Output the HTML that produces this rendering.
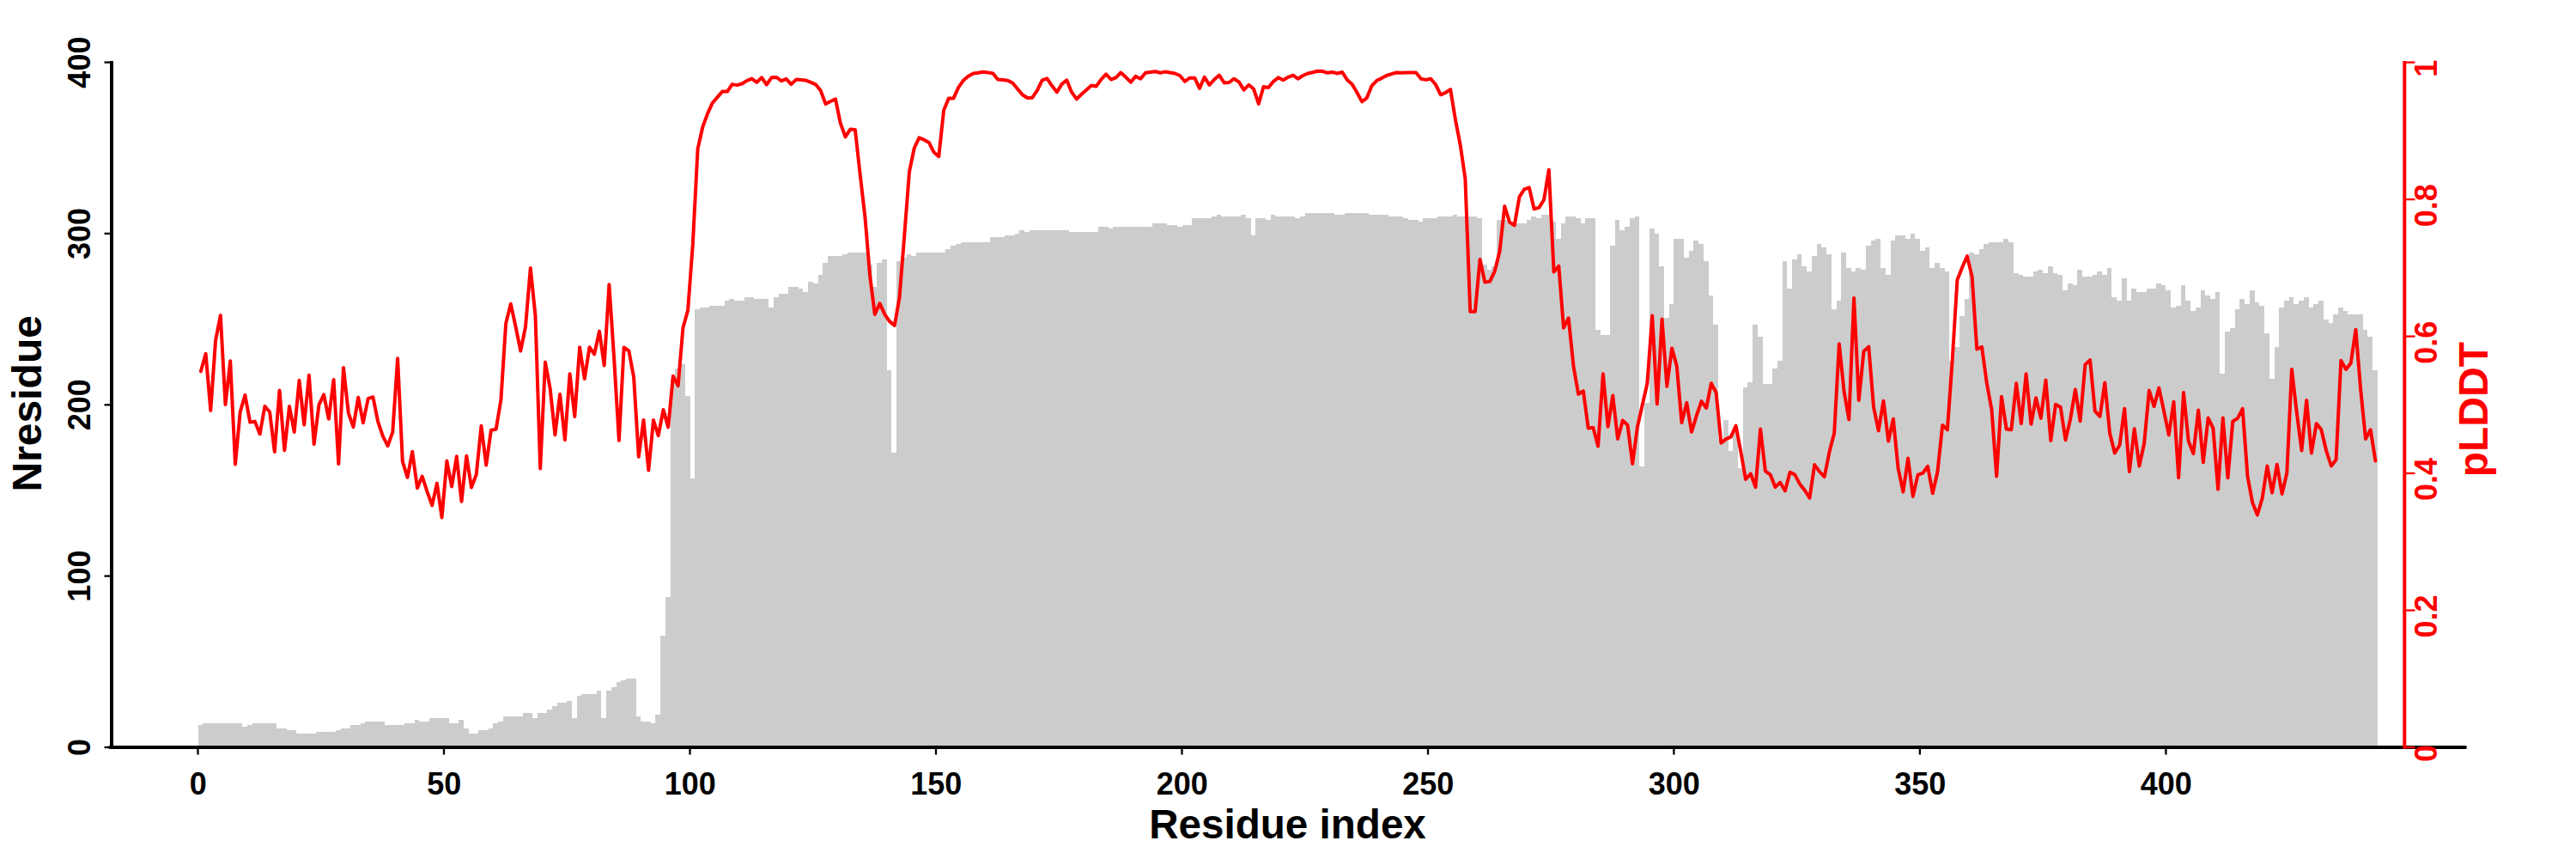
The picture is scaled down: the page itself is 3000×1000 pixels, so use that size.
<!DOCTYPE html>
<html lang="en"><head><meta charset="utf-8"><title>Residue coverage and pLDDT</title>
<style>html,body{margin:0;padding:0;background:#fff;}body{width:3000px;height:1000px;overflow:hidden;}svg{display:block;}</style>
</head><body>
<svg width="3000" height="1000" viewBox="0 0 3000 1000">
<rect width="3000" height="1000" fill="#fff"/>
<path d="M230.5 870.0 L230.5 844.1 L236.2 844.1 L236.2 842.1 L242.0 842.1 L242.0 842.1 L247.7 842.1 L247.7 842.1 L253.4 842.1 L253.4 842.1 L259.1 842.1 L259.1 842.1 L264.9 842.1 L264.9 842.1 L270.6 842.1 L270.6 842.1 L276.3 842.1 L276.3 842.1 L282.1 842.1 L282.1 846.1 L287.8 846.1 L287.8 844.1 L293.5 844.1 L293.5 842.1 L299.3 842.1 L299.3 842.1 L305.0 842.1 L305.0 842.1 L310.7 842.1 L310.7 842.1 L316.4 842.1 L316.4 842.1 L322.2 842.1 L322.2 848.1 L327.9 848.1 L327.9 848.1 L333.6 848.1 L333.6 850.1 L339.4 850.1 L339.4 850.1 L345.1 850.1 L345.1 854.1 L350.8 854.1 L350.8 854.1 L356.6 854.1 L356.6 854.1 L362.3 854.1 L362.3 854.1 L368.0 854.1 L368.0 852.1 L373.7 852.1 L373.7 852.1 L379.5 852.1 L379.5 852.1 L385.2 852.1 L385.2 852.1 L390.9 852.1 L390.9 850.1 L396.7 850.1 L396.7 848.1 L402.4 848.1 L402.4 848.1 L408.1 848.1 L408.1 844.1 L413.9 844.1 L413.9 844.1 L419.6 844.1 L419.6 842.1 L425.3 842.1 L425.3 840.1 L431.0 840.1 L431.0 840.1 L436.8 840.1 L436.8 840.1 L442.5 840.1 L442.5 840.1 L448.2 840.1 L448.2 844.1 L454.0 844.1 L454.0 844.1 L459.7 844.1 L459.7 844.1 L465.4 844.1 L465.4 844.1 L471.2 844.1 L471.2 842.1 L476.9 842.1 L476.9 842.1 L482.6 842.1 L482.6 838.1 L488.3 838.1 L488.3 840.1 L494.1 840.1 L494.1 840.1 L499.8 840.1 L499.8 836.1 L505.5 836.1 L505.5 836.1 L511.3 836.1 L511.3 836.1 L517.0 836.1 L517.0 836.1 L522.7 836.1 L522.7 842.1 L528.4 842.1 L528.4 842.1 L534.2 842.1 L534.2 838.1 L539.9 838.1 L539.9 848.1 L545.6 848.1 L545.6 854.1 L551.4 854.1 L551.4 854.1 L557.1 854.1 L557.1 850.1 L562.8 850.1 L562.8 850.1 L568.6 850.1 L568.6 848.1 L574.3 848.1 L574.3 842.1 L580.0 842.1 L580.0 840.1 L585.7 840.1 L585.7 834.1 L591.5 834.1 L591.5 834.1 L597.2 834.1 L597.2 834.1 L602.9 834.1 L602.9 834.1 L608.7 834.1 L608.7 830.1 L614.4 830.1 L614.4 830.1 L620.1 830.1 L620.1 836.1 L625.9 836.1 L625.9 830.1 L631.6 830.1 L631.6 830.1 L637.3 830.1 L637.3 826.1 L643.0 826.1 L643.0 822.2 L648.8 822.2 L648.8 818.2 L654.5 818.2 L654.5 818.2 L660.2 818.2 L660.2 816.2 L666.0 816.2 L666.0 836.1 L671.7 836.1 L671.7 810.2 L677.4 810.2 L677.4 808.2 L683.2 808.2 L683.2 808.2 L688.9 808.2 L688.9 808.2 L694.6 808.2 L694.6 804.2 L700.3 804.2 L700.3 836.1 L706.1 836.1 L706.1 804.2 L711.8 804.2 L711.8 800.2 L717.5 800.2 L717.5 794.2 L723.3 794.2 L723.3 792.3 L729.0 792.3 L729.0 790.3 L734.7 790.3 L734.7 790.3 L740.5 790.3 L740.5 834.1 L746.2 834.1 L746.2 840.1 L751.9 840.1 L751.9 840.1 L757.6 840.1 L757.6 842.1 L763.4 842.1 L763.4 832.1 L769.1 832.1 L769.1 740.4 L774.8 740.4 L774.8 694.6 L780.6 694.6 L780.6 441.4 L786.3 441.4 L786.3 429.4 L792.0 429.4 L792.0 423.5 L797.8 423.5 L797.8 461.3 L803.5 461.3 L803.5 557.0 L809.2 557.0 L809.2 359.7 L814.9 359.7 L814.9 357.7 L820.7 357.7 L820.7 357.7 L826.4 357.7 L826.4 355.7 L832.1 355.7 L832.1 355.7 L837.9 355.7 L837.9 355.7 L843.6 355.7 L843.6 349.7 L849.3 349.7 L849.3 347.7 L855.0 347.7 L855.0 349.7 L860.8 349.7 L860.8 349.7 L866.5 349.7 L866.5 345.7 L872.2 345.7 L872.2 345.7 L878.0 345.7 L878.0 347.7 L883.7 347.7 L883.7 347.7 L889.4 347.7 L889.4 347.7 L895.2 347.7 L895.2 357.7 L900.9 357.7 L900.9 345.7 L906.6 345.7 L906.6 341.7 L912.3 341.7 L912.3 341.7 L918.1 341.7 L918.1 333.7 L923.8 333.7 L923.8 333.7 L929.5 333.7 L929.5 335.7 L935.3 335.7 L935.3 339.7 L941.0 339.7 L941.0 327.8 L946.7 327.8 L946.7 329.8 L952.5 329.8 L952.5 319.8 L958.2 319.8 L958.2 305.8 L963.9 305.8 L963.9 297.9 L969.6 297.9 L969.6 297.9 L975.4 297.9 L975.4 297.9 L981.1 297.9 L981.1 295.9 L986.8 295.9 L986.8 293.9 L992.6 293.9 L992.6 293.9 L998.3 293.9 L998.3 293.9 L1004.0 293.9 L1004.0 293.9 L1009.8 293.9 L1009.8 307.8 L1015.5 307.8 L1015.5 333.7 L1021.2 333.7 L1021.2 305.8 L1026.9 305.8 L1026.9 301.9 L1032.7 301.9 L1032.7 431.4 L1038.4 431.4 L1038.4 527.1 L1044.1 527.1 L1044.1 303.8 L1049.9 303.8 L1049.9 299.9 L1055.6 299.9 L1055.6 295.9 L1061.3 295.9 L1061.3 297.9 L1067.1 297.9 L1067.1 293.9 L1072.8 293.9 L1072.8 293.9 L1078.5 293.9 L1078.5 293.9 L1084.2 293.9 L1084.2 293.9 L1090.0 293.9 L1090.0 293.9 L1095.7 293.9 L1095.7 293.9 L1101.4 293.9 L1101.4 289.9 L1107.2 289.9 L1107.2 285.9 L1112.9 285.9 L1112.9 283.9 L1118.6 283.9 L1118.6 281.9 L1124.3 281.9 L1124.3 281.9 L1130.1 281.9 L1130.1 281.9 L1135.8 281.9 L1135.8 281.9 L1141.5 281.9 L1141.5 281.9 L1147.3 281.9 L1147.3 281.9 L1153.0 281.9 L1153.0 275.9 L1158.7 275.9 L1158.7 275.9 L1164.5 275.9 L1164.5 275.9 L1170.2 275.9 L1170.2 273.9 L1175.9 273.9 L1175.9 273.9 L1181.6 273.9 L1181.6 271.9 L1187.4 271.9 L1187.4 268.0 L1193.1 268.0 L1193.1 270.0 L1198.8 270.0 L1198.8 268.0 L1204.6 268.0 L1204.6 268.0 L1210.3 268.0 L1210.3 268.0 L1216.0 268.0 L1216.0 268.0 L1221.8 268.0 L1221.8 268.0 L1227.5 268.0 L1227.5 268.0 L1233.2 268.0 L1233.2 268.0 L1238.9 268.0 L1238.9 268.0 L1244.7 268.0 L1244.7 270.0 L1250.4 270.0 L1250.4 270.0 L1256.1 270.0 L1256.1 270.0 L1261.9 270.0 L1261.9 270.0 L1267.6 270.0 L1267.6 270.0 L1273.3 270.0 L1273.3 270.0 L1279.1 270.0 L1279.1 264.0 L1284.8 264.0 L1284.8 264.0 L1290.5 264.0 L1290.5 266.0 L1296.2 266.0 L1296.2 264.0 L1302.0 264.0 L1302.0 264.0 L1307.7 264.0 L1307.7 264.0 L1313.4 264.0 L1313.4 264.0 L1319.2 264.0 L1319.2 264.0 L1324.9 264.0 L1324.9 264.0 L1330.6 264.0 L1330.6 264.0 L1336.4 264.0 L1336.4 264.0 L1342.1 264.0 L1342.1 260.0 L1347.8 260.0 L1347.8 260.0 L1353.5 260.0 L1353.5 260.0 L1359.3 260.0 L1359.3 262.0 L1365.0 262.0 L1365.0 262.0 L1370.7 262.0 L1370.7 264.0 L1376.5 264.0 L1376.5 262.0 L1382.2 262.0 L1382.2 262.0 L1387.9 262.0 L1387.9 254.0 L1393.6 254.0 L1393.6 254.0 L1399.4 254.0 L1399.4 254.0 L1405.1 254.0 L1405.1 254.0 L1410.8 254.0 L1410.8 252.0 L1416.6 252.0 L1416.6 250.0 L1422.3 250.0 L1422.3 252.0 L1428.0 252.0 L1428.0 252.0 L1433.8 252.0 L1433.8 252.0 L1439.5 252.0 L1439.5 252.0 L1445.2 252.0 L1445.2 250.0 L1450.9 250.0 L1450.9 254.0 L1456.7 254.0 L1456.7 273.9 L1462.4 273.9 L1462.4 254.0 L1468.1 254.0 L1468.1 254.0 L1473.9 254.0 L1473.9 256.0 L1479.6 256.0 L1479.6 250.0 L1485.3 250.0 L1485.3 252.0 L1491.1 252.0 L1491.1 252.0 L1496.8 252.0 L1496.8 252.0 L1502.5 252.0 L1502.5 252.0 L1508.2 252.0 L1508.2 254.0 L1514.0 254.0 L1514.0 252.0 L1519.7 252.0 L1519.7 248.0 L1525.4 248.0 L1525.4 248.0 L1531.2 248.0 L1531.2 248.0 L1536.9 248.0 L1536.9 248.0 L1542.6 248.0 L1542.6 248.0 L1548.4 248.0 L1548.4 248.0 L1554.1 248.0 L1554.1 250.0 L1559.8 250.0 L1559.8 250.0 L1565.5 250.0 L1565.5 248.0 L1571.3 248.0 L1571.3 248.0 L1577.0 248.0 L1577.0 248.0 L1582.7 248.0 L1582.7 248.0 L1588.5 248.0 L1588.5 248.0 L1594.2 248.0 L1594.2 250.0 L1599.9 250.0 L1599.9 250.0 L1605.7 250.0 L1605.7 250.0 L1611.4 250.0 L1611.4 250.0 L1617.1 250.0 L1617.1 252.0 L1622.8 252.0 L1622.8 252.0 L1628.6 252.0 L1628.6 252.0 L1634.3 252.0 L1634.3 254.0 L1640.0 254.0 L1640.0 256.0 L1645.8 256.0 L1645.8 256.0 L1651.5 256.0 L1651.5 258.0 L1657.2 258.0 L1657.2 254.0 L1663.0 254.0 L1663.0 254.0 L1668.7 254.0 L1668.7 254.0 L1674.4 254.0 L1674.4 252.0 L1680.1 252.0 L1680.1 252.0 L1685.9 252.0 L1685.9 252.0 L1691.6 252.0 L1691.6 250.0 L1697.3 250.0 L1697.3 252.0 L1703.1 252.0 L1703.1 252.0 L1708.8 252.0 L1708.8 252.0 L1714.5 252.0 L1714.5 252.0 L1720.2 252.0 L1720.2 254.0 L1726.0 254.0 L1726.0 307.8 L1731.7 307.8 L1731.7 313.8 L1737.4 313.8 L1737.4 309.8 L1743.2 309.8 L1743.2 256.0 L1748.9 256.0 L1748.9 256.0 L1754.6 256.0 L1754.6 258.0 L1760.4 258.0 L1760.4 260.0 L1766.1 260.0 L1766.1 260.0 L1771.8 260.0 L1771.8 260.0 L1777.5 260.0 L1777.5 256.0 L1783.3 256.0 L1783.3 252.0 L1789.0 252.0 L1789.0 254.0 L1794.7 254.0 L1794.7 250.0 L1800.5 250.0 L1800.5 250.0 L1806.2 250.0 L1806.2 258.0 L1811.9 258.0 L1811.9 277.9 L1817.7 277.9 L1817.7 260.0 L1823.4 260.0 L1823.4 252.0 L1829.1 252.0 L1829.1 252.0 L1834.8 252.0 L1834.8 254.0 L1840.6 254.0 L1840.6 260.0 L1846.3 260.0 L1846.3 254.0 L1852.0 254.0 L1852.0 254.0 L1857.8 254.0 L1857.8 383.6 L1863.5 383.6 L1863.5 389.6 L1869.2 389.6 L1869.2 389.6 L1875.0 389.6 L1875.0 285.9 L1880.7 285.9 L1880.7 256.0 L1886.4 256.0 L1886.4 268.0 L1892.1 268.0 L1892.1 264.0 L1897.9 264.0 L1897.9 254.0 L1903.6 254.0 L1903.6 252.0 L1909.3 252.0 L1909.3 543.1 L1915.1 543.1 L1915.1 469.3 L1920.8 469.3 L1920.8 266.0 L1926.5 266.0 L1926.5 271.9 L1932.3 271.9 L1932.3 309.8 L1938.0 309.8 L1938.0 369.6 L1943.7 369.6 L1943.7 353.7 L1949.4 353.7 L1949.4 277.9 L1955.2 277.9 L1955.2 277.9 L1960.9 277.9 L1960.9 299.9 L1966.6 299.9 L1966.6 291.9 L1972.4 291.9 L1972.4 279.9 L1978.1 279.9 L1978.1 283.9 L1983.8 283.9 L1983.8 303.8 L1989.5 303.8 L1989.5 343.7 L1995.3 343.7 L1995.3 377.6 L2001.0 377.6 L2001.0 511.2 L2006.7 511.2 L2006.7 489.2 L2012.5 489.2 L2012.5 525.1 L2018.2 525.1 L2018.2 499.2 L2023.9 499.2 L2023.9 545.1 L2029.7 545.1 L2029.7 451.4 L2035.4 451.4 L2035.4 445.4 L2041.1 445.4 L2041.1 377.6 L2046.8 377.6 L2046.8 391.6 L2052.6 391.6 L2052.6 447.4 L2058.3 447.4 L2058.3 447.4 L2064.0 447.4 L2064.0 429.4 L2069.8 429.4 L2069.8 419.5 L2075.5 419.5 L2075.5 303.8 L2081.2 303.8 L2081.2 335.7 L2087.0 335.7 L2087.0 301.9 L2092.7 301.9 L2092.7 295.9 L2098.4 295.9 L2098.4 309.8 L2104.1 309.8 L2104.1 315.8 L2109.9 315.8 L2109.9 297.9 L2115.6 297.9 L2115.6 283.9 L2121.3 283.9 L2121.3 287.9 L2127.1 287.9 L2127.1 295.9 L2132.8 295.9 L2132.8 359.7 L2138.5 359.7 L2138.5 349.7 L2144.3 349.7 L2144.3 293.9 L2150.0 293.9 L2150.0 311.8 L2155.7 311.8 L2155.7 315.8 L2161.4 315.8 L2161.4 311.8 L2167.2 311.8 L2167.2 313.8 L2172.9 313.8 L2172.9 285.9 L2178.6 285.9 L2178.6 279.9 L2184.4 279.9 L2184.4 277.9 L2190.1 277.9 L2190.1 311.8 L2195.8 311.8 L2195.8 319.8 L2201.6 319.8 L2201.6 279.9 L2207.3 279.9 L2207.3 273.9 L2213.0 273.9 L2213.0 273.9 L2218.7 273.9 L2218.7 277.9 L2224.5 277.9 L2224.5 271.9 L2230.2 271.9 L2230.2 277.9 L2235.9 277.9 L2235.9 291.9 L2241.7 291.9 L2241.7 287.9 L2247.4 287.9 L2247.4 311.8 L2253.1 311.8 L2253.1 305.8 L2258.8 305.8 L2258.8 311.8 L2264.6 311.8 L2264.6 315.8 L2270.3 315.8 L2270.3 419.5 L2276.0 419.5 L2276.0 403.5 L2281.8 403.5 L2281.8 367.6 L2287.5 367.6 L2287.5 347.7 L2293.2 347.7 L2293.2 293.9 L2299.0 293.9 L2299.0 295.9 L2304.7 295.9 L2304.7 289.9 L2310.4 289.9 L2310.4 283.9 L2316.1 283.9 L2316.1 281.9 L2321.9 281.9 L2321.9 281.9 L2327.6 281.9 L2327.6 281.9 L2333.3 281.9 L2333.3 277.9 L2339.1 277.9 L2339.1 281.9 L2344.8 281.9 L2344.8 317.8 L2350.5 317.8 L2350.5 319.8 L2356.3 319.8 L2356.3 321.8 L2362.0 321.8 L2362.0 321.8 L2367.7 321.8 L2367.7 315.8 L2373.4 315.8 L2373.4 313.8 L2379.2 313.8 L2379.2 317.8 L2384.9 317.8 L2384.9 309.8 L2390.6 309.8 L2390.6 317.8 L2396.4 317.8 L2396.4 319.8 L2402.1 319.8 L2402.1 337.7 L2407.8 337.7 L2407.8 329.8 L2413.6 329.8 L2413.6 331.8 L2419.3 331.8 L2419.3 313.8 L2425.0 313.8 L2425.0 321.8 L2430.7 321.8 L2430.7 321.8 L2436.5 321.8 L2436.5 319.8 L2442.2 319.8 L2442.2 315.8 L2447.9 315.8 L2447.9 319.8 L2453.7 319.8 L2453.7 311.8 L2459.4 311.8 L2459.4 345.7 L2465.1 345.7 L2465.1 349.7 L2470.9 349.7 L2470.9 323.8 L2476.6 323.8 L2476.6 349.7 L2482.3 349.7 L2482.3 335.7 L2488.0 335.7 L2488.0 339.7 L2493.8 339.7 L2493.8 339.7 L2499.5 339.7 L2499.5 335.7 L2505.2 335.7 L2505.2 335.7 L2511.0 335.7 L2511.0 329.8 L2516.7 329.8 L2516.7 331.8 L2522.4 331.8 L2522.4 337.7 L2528.1 337.7 L2528.1 357.7 L2533.9 357.7 L2533.9 355.7 L2539.6 355.7 L2539.6 331.8 L2545.3 331.8 L2545.3 349.7 L2551.1 349.7 L2551.1 361.7 L2556.8 361.7 L2556.8 357.7 L2562.5 357.7 L2562.5 337.7 L2568.3 337.7 L2568.3 343.7 L2574.0 343.7 L2574.0 347.7 L2579.7 347.7 L2579.7 339.7 L2585.4 339.7 L2585.4 435.4 L2591.2 435.4 L2591.2 385.6 L2596.9 385.6 L2596.9 381.6 L2602.6 381.6 L2602.6 359.7 L2608.4 359.7 L2608.4 347.7 L2614.1 347.7 L2614.1 353.7 L2619.8 353.7 L2619.8 337.7 L2625.6 337.7 L2625.6 351.7 L2631.3 351.7 L2631.3 355.7 L2637.0 355.7 L2637.0 387.6 L2642.7 387.6 L2642.7 441.4 L2648.5 441.4 L2648.5 403.5 L2654.2 403.5 L2654.2 357.7 L2659.9 357.7 L2659.9 349.7 L2665.7 349.7 L2665.7 345.7 L2671.4 345.7 L2671.4 353.7 L2677.1 353.7 L2677.1 349.7 L2682.9 349.7 L2682.9 345.7 L2688.6 345.7 L2688.6 357.7 L2694.3 357.7 L2694.3 353.7 L2700.0 353.7 L2700.0 349.7 L2705.8 349.7 L2705.8 371.6 L2711.5 371.6 L2711.5 375.6 L2717.2 375.6 L2717.2 365.6 L2723.0 365.6 L2723.0 357.7 L2728.7 357.7 L2728.7 361.7 L2734.4 361.7 L2734.4 365.6 L2740.2 365.6 L2740.2 365.6 L2745.9 365.6 L2745.9 365.6 L2751.6 365.6 L2751.6 383.6 L2757.3 383.6 L2757.3 391.6 L2763.1 391.6 L2763.1 431.4 L2768.8 431.4 L2768.8 870.0Z" fill="#cccccc" shape-rendering="crispEdges"/>
<g stroke="#000" fill="none" stroke-linecap="butt">
<path d="M130 71.1 V872.0" stroke-width="4"/>
<path d="M121.5 870.0 H130" stroke-width="2.3"/>
<path d="M121.5 670.6 H130" stroke-width="2.3"/>
<path d="M121.5 471.3 H130" stroke-width="2.3"/>
<path d="M121.5 271.9 H130" stroke-width="2.3"/>
<path d="M121.5 72.6 H130" stroke-width="2.3"/>
<path d="M128 870 H2871" stroke-width="4" stroke-linecap="round"/>
<path d="M230.5 870 V878.5" stroke-width="2.3"/>
<path d="M517.0 870 V878.5" stroke-width="2.3"/>
<path d="M803.5 870 V878.5" stroke-width="2.3"/>
<path d="M1090.0 870 V878.5" stroke-width="2.3"/>
<path d="M1376.5 870 V878.5" stroke-width="2.3"/>
<path d="M1663.0 870 V878.5" stroke-width="2.3"/>
<path d="M1949.4 870 V878.5" stroke-width="2.3"/>
<path d="M2235.9 870 V878.5" stroke-width="2.3"/>
<path d="M2522.4 870 V878.5" stroke-width="2.3"/>
</g>
<polyline points="233.9,432.2 239.6,411.7 245.3,477.9 251.1,396.1 256.8,367.1 262.5,471.0 268.2,420.2 274.0,540.5 279.7,479.5 285.4,460.0 291.2,491.6 296.9,490.6 302.6,505.3 308.4,473.0 314.1,479.5 319.8,526.1 325.5,454.4 331.3,524.2 337.0,473.0 342.7,503.0 348.5,442.7 354.2,494.5 359.9,436.8 365.7,517.0 371.4,471.4 377.1,459.3 382.8,487.7 388.6,442.0 394.3,540.1 400.0,428.0 405.8,480.8 411.5,497.1 417.2,462.6 422.9,492.2 428.7,464.2 434.4,462.2 440.1,490.6 445.9,507.9 451.6,519.0 457.3,503.0 463.1,417.3 468.8,537.2 474.5,555.8 480.2,525.8 486.0,568.2 491.7,554.5 497.4,572.1 503.2,588.4 508.9,562.6 514.6,602.4 520.4,536.6 526.1,566.5 531.8,531.3 537.5,583.8 543.3,530.7 549.0,567.5 554.7,552.5 560.5,495.8 566.2,541.4 571.9,500.7 577.7,499.7 583.4,465.5 589.1,376.8 594.8,353.7 600.6,380.7 606.3,408.5 612.0,380.7 617.8,312.0 623.5,367.7 629.2,545.4 635.0,421.5 640.7,452.5 646.4,506.2 652.1,459.0 657.9,512.1 663.6,435.2 669.3,485.1 675.1,404.2 680.8,441.0 686.5,404.2 692.2,412.4 698.0,385.6 703.7,425.4 709.4,331.2 715.2,418.2 720.9,512.8 726.6,404.5 732.4,408.5 738.1,439.4 743.8,531.7 749.5,489.0 755.3,547.6 761.0,489.0 766.7,507.2 772.5,476.9 778.2,497.4 783.9,437.8 789.7,449.2 795.4,381.7 801.1,361.2 806.8,284.9 812.6,173.4 818.3,148.0 824.0,132.4 829.8,119.7 835.5,113.1 841.2,106.6 847.0,106.6 852.7,98.1 858.4,99.1 864.1,97.5 869.9,93.9 875.6,91.6 881.3,95.9 887.1,90.3 892.8,98.5 898.5,90.3 904.3,90.0 910.0,94.2 915.7,91.9 921.4,98.1 927.2,92.6 932.9,92.9 938.6,93.6 944.4,95.9 950.1,98.5 955.8,105.6 961.5,121.0 967.3,118.0 973.0,115.4 978.7,143.1 984.5,159.4 990.2,150.6 995.9,150.9 1001.7,203.4 1007.4,252.3 1013.1,320.8 1018.8,365.9 1024.6,353.2 1030.3,365.9 1036.0,374.1 1041.8,379.0 1047.5,346.4 1053.2,275.0 1059.0,200.2 1064.7,172.5 1070.4,160.4 1076.1,162.7 1081.9,165.9 1087.6,177.3 1093.3,182.2 1099.1,128.5 1104.8,114.4 1110.5,114.4 1116.3,101.7 1122.0,93.6 1127.7,88.7 1133.4,85.4 1139.2,84.8 1144.9,83.8 1150.6,84.4 1156.4,85.5 1162.1,92.5 1167.8,92.9 1173.6,93.8 1179.3,96.6 1185.0,103.5 1190.7,110.3 1196.5,114.0 1202.2,113.7 1207.9,105.3 1213.7,93.3 1219.4,91.3 1225.1,99.8 1230.9,107.2 1236.6,97.9 1242.3,93.3 1248.0,107.2 1253.8,115.3 1259.5,109.7 1265.2,104.7 1271.0,99.5 1276.7,100.4 1282.4,92.5 1288.1,86.3 1293.9,92.5 1299.6,90.4 1305.3,84.5 1311.1,89.8 1316.8,95.7 1322.5,88.9 1328.3,91.7 1334.0,84.8 1339.7,83.9 1345.4,83.2 1351.2,84.8 1356.9,83.6 1362.6,84.5 1368.4,85.5 1374.1,88.0 1379.8,94.8 1385.6,90.7 1391.3,90.7 1397.0,102.9 1402.7,89.8 1408.5,98.8 1414.2,92.5 1419.9,87.6 1425.7,96.4 1431.4,96.0 1437.1,91.7 1442.9,95.4 1448.6,104.7 1454.3,98.8 1460.0,103.5 1465.8,120.9 1471.5,101.0 1477.2,102.0 1483.0,94.8 1488.7,90.4 1494.4,93.3 1500.2,89.8 1505.9,87.6 1511.6,91.7 1517.3,88.0 1523.1,85.5 1528.8,84.2 1534.5,82.7 1540.3,83.0 1546.0,84.8 1551.7,83.9 1557.4,85.5 1563.2,84.0 1568.9,92.9 1574.6,97.9 1580.4,107.8 1586.1,118.4 1591.8,114.0 1597.6,99.8 1603.3,93.8 1609.0,91.1 1614.7,88.0 1620.5,86.1 1626.2,84.5 1631.9,84.8 1637.7,84.6 1643.4,84.6 1649.1,84.6 1654.9,91.7 1660.6,92.9 1666.3,91.7 1672.0,98.5 1677.8,110.3 1683.5,107.8 1689.2,104.1 1695.0,139.5 1700.7,168.9 1706.4,208.0 1712.2,362.8 1717.9,362.8 1723.6,301.9 1729.3,328.6 1735.1,327.6 1740.8,315.6 1746.5,292.8 1752.3,240.0 1758.0,258.5 1763.7,262.4 1769.5,229.2 1775.2,220.4 1780.9,218.4 1786.6,243.2 1792.4,241.6 1798.1,232.5 1803.8,197.6 1809.6,316.6 1815.3,309.7 1821.0,381.7 1826.7,370.3 1832.5,426.3 1838.2,458.8 1843.9,455.2 1849.7,498.5 1855.4,497.8 1861.1,519.4 1866.9,435.3 1872.6,496.7 1878.3,460.6 1884.0,511.1 1889.8,489.5 1895.5,494.9 1901.2,540.0 1907.0,496.7 1912.7,471.4 1918.4,446.2 1924.2,367.5 1929.9,470.3 1935.6,371.5 1941.3,449.8 1947.1,405.4 1952.8,426.3 1958.5,492.0 1964.3,468.9 1970.0,502.8 1975.7,484.1 1981.5,467.1 1987.2,475.0 1992.9,446.2 1998.6,457.0 2004.4,515.8 2010.1,511.1 2015.8,508.6 2021.6,495.6 2027.3,525.6 2033.0,558.0 2038.8,551.5 2044.5,567.1 2050.2,499.6 2055.9,548.3 2061.7,552.6 2067.4,567.1 2073.1,561.6 2078.9,571.4 2084.6,549.7 2090.3,552.6 2096.0,563.4 2101.8,570.7 2107.5,579.7 2113.2,541.1 2119.0,549.0 2124.7,555.1 2130.4,526.6 2136.2,503.9 2141.9,400.3 2147.6,455.9 2153.3,488.4 2159.1,346.9 2164.8,466.0 2170.5,409.0 2176.3,403.6 2182.0,473.9 2187.7,501.4 2193.5,466.7 2199.2,513.6 2204.9,487.7 2210.6,545.4 2216.4,572.5 2222.1,533.5 2227.8,577.9 2233.6,552.6 2239.3,550.8 2245.0,542.9 2250.8,574.3 2256.5,549.0 2262.2,494.9 2267.9,500.3 2273.7,419.1 2279.4,326.0 2285.1,311.5 2290.9,298.2 2296.6,321.7 2302.3,406.5 2308.1,403.9 2313.8,446.2 2319.5,476.8 2325.2,554.4 2331.0,461.7 2336.7,499.6 2342.4,500.3 2348.2,446.2 2353.9,493.1 2359.6,435.3 2365.4,493.8 2371.1,463.1 2376.8,486.9 2382.5,442.5 2388.3,512.9 2394.0,470.7 2399.7,473.9 2405.5,512.2 2411.2,487.7 2416.9,453.4 2422.6,490.2 2428.4,424.5 2434.1,419.1 2439.8,478.6 2445.6,484.8 2451.3,445.4 2457.0,503.9 2462.8,527.4 2468.5,518.3 2474.2,475.8 2479.9,549.0 2485.7,499.2 2491.4,542.5 2497.1,516.5 2502.9,454.5 2508.6,473.2 2514.3,451.6 2520.1,478.6 2525.8,506.4 2531.5,467.8 2537.2,556.2 2543.0,457.0 2548.7,513.6 2554.4,528.1 2560.2,477.6 2565.9,538.2 2571.6,486.6 2577.4,498.5 2583.1,569.6 2588.8,486.6 2594.5,556.2 2600.3,490.5 2606.0,486.9 2611.7,475.8 2617.5,554.4 2623.2,585.1 2628.9,599.5 2634.7,579.7 2640.4,542.5 2646.1,573.6 2651.8,540.7 2657.6,575.0 2663.3,550.8 2669.0,429.9 2674.8,480.4 2680.5,524.5 2686.2,466.0 2691.9,527.4 2697.7,493.1 2703.4,500.3 2709.1,524.5 2714.9,542.5 2720.6,535.3 2726.3,419.8 2732.1,429.9 2737.8,422.7 2743.5,383.7 2749.2,453.4 2755.0,511.1 2760.7,500.3 2766.4,536.4" fill="none" stroke="#ff0000" stroke-width="4" stroke-linejoin="round" stroke-linecap="round"/>
<g stroke="#ff0000" fill="none">
<path d="M2800.3 71.1 V871.5" stroke-width="4"/>
<path d="M2800.3 870.0 H2812.5" stroke-width="2.3"/>
<path d="M2800.3 710.5 H2812.5" stroke-width="2.3"/>
<path d="M2800.3 551.0 H2812.5" stroke-width="2.3"/>
<path d="M2800.3 391.6 H2812.5" stroke-width="2.3"/>
<path d="M2800.3 232.1 H2812.5" stroke-width="2.3"/>
<path d="M2800.3 72.6 H2812.5" stroke-width="2.3"/>
</g>
<g font-family="Liberation Sans, Arial, Helvetica, sans-serif" font-weight="bold" font-size="36" fill="#000" text-anchor="middle">
<text x="230.8" y="925">0</text>
<text x="517.3" y="925">50</text>
<text x="803.8" y="925">100</text>
<text x="1090.3" y="925">150</text>
<text x="1376.8" y="925">200</text>
<text x="1663.2" y="925">250</text>
<text x="1949.7" y="925">300</text>
<text x="2236.2" y="925">350</text>
<text x="2522.7" y="925">400</text>
<text transform="translate(104.8 870.0) rotate(-90)">0</text>
<text transform="translate(104.8 670.6) rotate(-90)">100</text>
<text transform="translate(104.8 471.3) rotate(-90)">200</text>
<text transform="translate(104.8 271.9) rotate(-90)">300</text>
<text transform="translate(104.8 72.6) rotate(-90)">400</text>
</g>
<g font-family="Liberation Sans, Arial, Helvetica, sans-serif" font-weight="bold" font-size="36" fill="#ff0000" text-anchor="middle">
<text transform="translate(2837.8 877.1) rotate(-90)">0</text>
<text transform="translate(2837.8 717.6) rotate(-90)">0.2</text>
<text transform="translate(2837.8 558.1) rotate(-90)">0.4</text>
<text transform="translate(2837.8 398.7) rotate(-90)">0.6</text>
<text transform="translate(2837.8 239.2) rotate(-90)">0.8</text>
<text transform="translate(2837.8 79.7) rotate(-90)">1</text>
</g>
<g font-family="Liberation Sans, Arial, Helvetica, sans-serif" font-weight="bold" font-size="48" text-anchor="middle">
<text x="1499.5" y="976" fill="#000" font-size="47.6">Residue index</text>
<text transform="translate(48 469.8) rotate(-90)" fill="#000">Nresidue</text>
<text transform="translate(2896.9 476.7) rotate(-90)" fill="#ff0000">pLDDT</text>
</g>
</svg>
</body></html>
